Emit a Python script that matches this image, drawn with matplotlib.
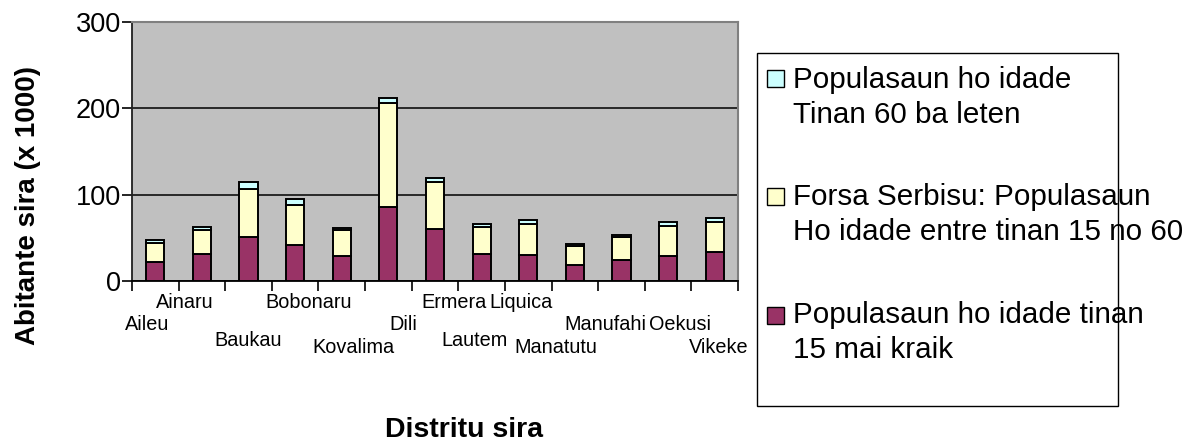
import matplotlib
matplotlib.use("Agg")
import matplotlib.pyplot as plt
from matplotlib.patches import Rectangle
from matplotlib.transforms import blended_transform_factory
import numpy as np

# Population by district, thousands of people
districts = ["Aileu", "Ainaru", "Baukau", "Bobonaru", "Kovalima", "Dili", "Ermera",
             "Lautem", "Liquica", "Manatutu", "Manufahi", "Oekusi", "Vikeke"]
under_15 = [22, 31, 51, 42, 29, 86, 60, 31, 30.5, 18, 24, 29, 33.5]
age_15_60 = [22.5, 28.5, 55, 46.5, 30.5, 120.5, 55, 31, 36, 22, 27, 35, 35]
over_60 = [2.5, 2.5, 9, 6.5, 2.3, 5, 4.3, 4.5, 4.3, 2.3, 2, 4.7, 4.7]

series_labels = [
    ["Populasaun ho idade", "Tinan 60 ba leten"],
    ["Forsa Serbisu: Populasaun", "Ho idade entre tinan 15 no 60"],
    ["Populasaun ho idade tinan", "15 mai kraik"],
]
y_ticks = [0, 100, 200, 300]
y_title = "Abitante sira (x 1000)"
x_title = "Distritu sira"

# staggered category label layout
label_nudge = [-0.18, -0.36, 0.0, 0.28, 0.25, 0.33, 0.40, -0.16, -0.15, -0.41, -0.35, 0.26, 0.08]
label_row = [1, 0, 2, 0, 3, 1, 0, 2, 0, 3, 1, 1, 3]
row_baseline = [308, 329.5, 345.5, 352.5]

PURPLE, YELLOW, CYAN = "#993366", "#FFFFCC", "#CCFFFF"
FONT = "Liberation Sans"
plt.rcParams["font.family"] = [FONT, "DejaVu Sans"]

W, H = 1191, 444
fig = plt.figure(figsize=(W / 100, H / 100), dpi=100)


def fx(px):
    return px / W


def fy(py):
    return 1 - py / H


ax = fig.add_axes([fx(132), fy(281), 606 / W, 259 / H])
ax.set_facecolor("#C0C0C0")

x = np.arange(len(districts))
bar_kw = dict(width=0.39, edgecolor="black", linewidth=1.4, zorder=3)
ax.bar(x, under_15, color=PURPLE, **bar_kw)
ax.bar(x, age_15_60, bottom=under_15, color=YELLOW, **bar_kw)
ax.bar(x, over_60, bottom=np.add(under_15, age_15_60), color=CYAN, **bar_kw)

ax.set_xlim(-0.5, len(districts) - 0.5)
ax.set_ylim(0, 300)
ax.set_yticks(y_ticks)
ax.set_yticklabels([str(v) for v in y_ticks], fontsize=19.5)
ax.set_xticks(np.arange(-0.5, len(districts), 1.0))
ax.set_xticklabels([])
ax.tick_params(axis="y", direction="out", length=7, width=1.2, pad=1, colors="black")
ax.tick_params(axis="x", direction="out", length=7, width=1.2, colors="black")

ax.yaxis.grid(True, color="black", linewidth=1.1, zorder=1)
ax.set_axisbelow(True)

for side in ("top", "right"):
    ax.spines[side].set_color("#808080")
    ax.spines[side].set_linewidth(1.5)
ax.spines["left"].set_color("#202020")
ax.spines["left"].set_linewidth(1.3)
ax.spines["bottom"].set_color("black")
ax.spines["bottom"].set_linewidth(1.3)

# category labels below the axis
trans = blended_transform_factory(ax.transData, fig.transFigure)
for i, name in enumerate(districts):
    ax.text(i + label_nudge[i], fy(row_baseline[label_row[i]]), name, transform=trans,
            ha="center", va="baseline", fontsize=14.3, clip_on=False)

# axis titles
fig.text(fx(464), fy(437), x_title, ha="center", va="baseline",
         fontsize=20.5, fontweight="bold")
fig.text(fx(28), fy(205), y_title, ha="center", va="center", rotation=90,
         fontsize=20, fontweight="bold")

# legend box
fig.add_artist(Rectangle((fx(757), fy(406)), (1118 - 757) / W, (406 - 53) / H,
                         transform=fig.transFigure, fill=False,
                         edgecolor="black", linewidth=1.0))
legend_colors = [CYAN, YELLOW, PURPLE]
swatch_top = [70, 188, 306.5]
first_baseline = [88.3, 205, 323.3]
for col, top, base, lines in zip(legend_colors, swatch_top, first_baseline, series_labels):
    fig.add_artist(Rectangle((fx(767), fy(top + 17)), 17 / W, 17 / H,
                             transform=fig.transFigure, facecolor=col,
                             edgecolor="black", linewidth=1.0))
    for k, line in enumerate(lines):
        fig.text(fx(793), fy(base + 34.5 * k), line, ha="left", va="baseline",
                 fontsize=21.3)

fig.savefig("out.png", dpi=100)
